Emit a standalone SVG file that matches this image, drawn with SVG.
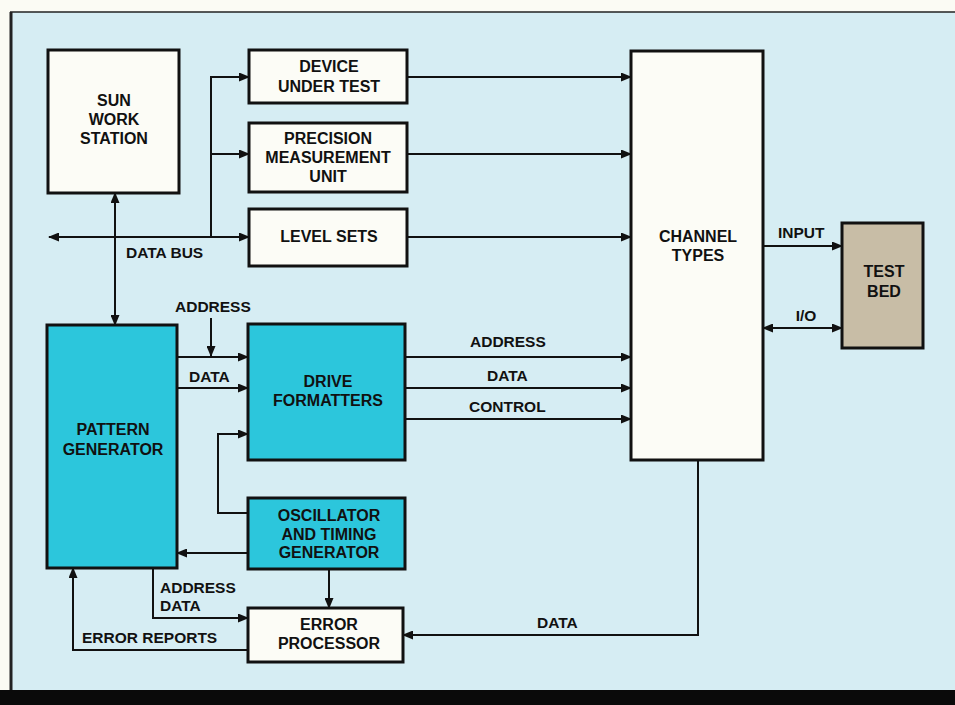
<svg xmlns="http://www.w3.org/2000/svg" width="955" height="705" viewBox="0 0 955 705">
<defs>
<style>
.box{stroke:#111;stroke-width:3}
.w{fill:#fcfcf6}
.c{fill:#2cc6dc}
.t{fill:#c8bda6}
text{font-family:"Liberation Sans",Arial,sans-serif;font-weight:bold;fill:#111}
.n{font-size:16px;text-anchor:middle}
.l{font-size:15.5px}
.conn path{fill:none;stroke:#111;stroke-width:2}
.e{marker-end:url(#ah)}
.b{marker-start:url(#ah);marker-end:url(#ah)}
</style>
<marker id="ah" markerUnits="userSpaceOnUse" markerWidth="11" markerHeight="9" refX="10" refY="4.5" orient="auto-start-reverse">
<path d="M0,0 L11,4.5 L0,9 z" fill="#111"/>
</marker>
</defs>
<rect x="0" y="0" width="955" height="705" fill="#fbfbf4"/>
<rect x="10" y="12" width="945" height="680" fill="#d6edf3"/>
<path d="M10,12 H955" stroke="#222" stroke-width="1.5" fill="none"/>
<path d="M11,12 V692" stroke="#222" stroke-width="3" fill="none"/>
<rect x="0" y="690" width="955" height="15" fill="#0a0a0a"/>

<g class="conn">
<path class="b" d="M49,237 H249"/>
<path class="e" d="M211,237 V77 H249"/>
<path class="e" d="M211,154 H249"/>
<path class="b" d="M115,193 V325"/>
<path class="e" d="M407,77 H631"/>
<path class="e" d="M407,154 H631"/>
<path class="e" d="M407,237 H631"/>
<path class="e" d="M763,246 H842"/>
<path class="b" d="M763,328 H842"/>
<path class="e" d="M177,357 H248"/>
<path class="e" d="M177,388 H248"/>
<path class="e" d="M211,318 V356"/>
<path class="e" d="M248,513 H218 V434 H248"/>
<path class="e" d="M248,553 H177"/>
<path class="e" d="M329,569 V608"/>
<path class="e" d="M153,568 V618 H248"/>
<path class="e" d="M248,650 H73 V568"/>
<path class="e" d="M698,460 V635 H403"/>
<path class="e" d="M405,357 H631"/>
<path class="e" d="M405,388 H631"/>
<path class="e" d="M405,419 H631"/>
</g>

<g id="labels">
<text class="l" x="126" y="258">DATA BUS</text>
<text class="l" x="175" y="312">ADDRESS</text>
<text class="l" x="189" y="382">DATA</text>
<text class="l" x="470" y="347">ADDRESS</text>
<text class="l" x="487" y="381">DATA</text>
<text class="l" x="469" y="412">CONTROL</text>
<text class="l" x="778" y="238">INPUT</text>
<text class="l" x="806" y="321" text-anchor="middle">I/O</text>
<text class="l" x="160" y="593">ADDRESS</text>
<text class="l" x="160" y="611">DATA</text>
<text class="l" x="82" y="643">ERROR REPORTS</text>
<text class="l" x="537" y="628">DATA</text>
</g>

<g id="sun">
<rect class="box w" x="48" y="50" width="131" height="143"/>
<text class="n" x="114" y="106">SUN</text>
<text class="n" x="114" y="125">WORK</text>
<text class="n" x="114" y="144">STATION</text>
</g>
<g id="dut">
<rect class="box w" x="249" y="50" width="158" height="53"/>
<text class="n" x="329" y="72">DEVICE</text>
<text class="n" x="329" y="92">UNDER TEST</text>
</g>
<g id="pmu">
<rect class="box w" x="249" y="123" width="158" height="69"/>
<text class="n" x="328" y="144">PRECISION</text>
<text class="n" x="328" y="163">MEASUREMENT</text>
<text class="n" x="328" y="182">UNIT</text>
</g>
<g id="levelsets">
<rect class="box w" x="249" y="209" width="158" height="57"/>
<text class="n" x="329" y="242">LEVEL SETS</text>
</g>
<g id="channel">
<rect class="box w" x="631" y="51" width="132" height="409"/>
<text class="n" x="698" y="242">CHANNEL</text>
<text class="n" x="698" y="261">TYPES</text>
</g>
<g id="testbed">
<rect class="box t" x="842" y="223" width="81" height="125"/>
<text class="n" x="884" y="277">TEST</text>
<text class="n" x="884" y="297">BED</text>
</g>
<g id="pattern">
<rect class="box c" x="47" y="325" width="130" height="243"/>
<text class="n" x="113" y="435">PATTERN</text>
<text class="n" x="113" y="455">GENERATOR</text>
</g>
<g id="drive">
<rect class="box c" x="248" y="324" width="157" height="136"/>
<text class="n" x="328" y="387">DRIVE</text>
<text class="n" x="328" y="406">FORMATTERS</text>
</g>
<g id="osc">
<rect class="box c" x="248" y="498" width="157" height="71"/>
<text class="n" x="329" y="521">OSCILLATOR</text>
<text class="n" x="329" y="540">AND TIMING</text>
<text class="n" x="329" y="558">GENERATOR</text>
</g>
<g id="errproc">
<rect class="box w" x="248" y="608" width="155" height="54"/>
<text class="n" x="329" y="630">ERROR</text>
<text class="n" x="329" y="649">PROCESSOR</text>
</g>
</svg>
